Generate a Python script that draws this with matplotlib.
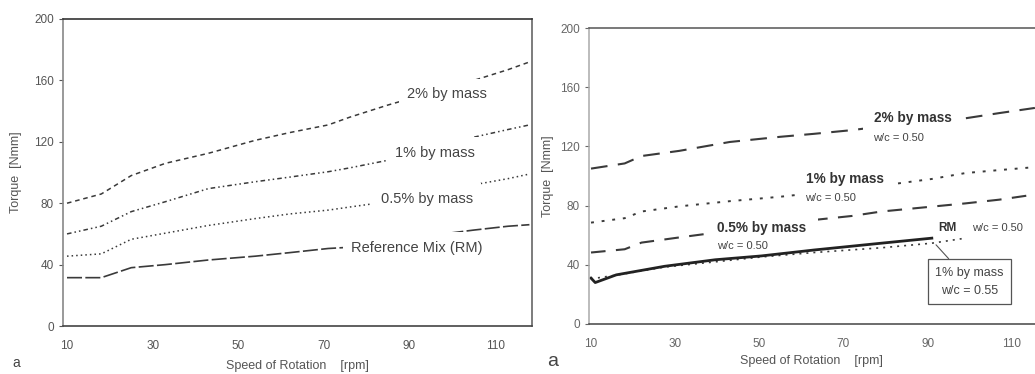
import matplotlib
matplotlib.use("Agg")
import matplotlib.pyplot as plt

plt.rcParams['font.family'] = ['Liberation Sans', 'DejaVu Sans']

# left panel (a) - torque vs speed, fibre content
left_x = [10, 18, 25, 33, 43, 54, 62, 71, 76, 85, 95, 105, 113, 118]
left_2pct = [80, 86, 98, 106, 112.5, 121, 126, 131, 136, 144, 152, 160, 167, 172]
left_1pct = [60, 65, 74.5, 81, 89.5, 94, 97, 100.5, 103, 108, 115, 123, 128, 131]
left_05pct = [45.5, 47, 56.5, 60.5, 65.5, 70, 73, 75.5, 77.5, 81, 86, 92, 96, 99]
left_rm = [31.5, 31.5, 38, 40, 43, 45.5, 47.8, 50.5, 51.3, 54, 59, 62.5, 65, 66]

# right panel (a) - torque vs speed, w/c ratio
right_x = [10, 18, 22, 31, 43, 55, 63, 72, 79, 91, 99, 107, 115.5]
right_2pct = [105, 108.5, 113.5, 117, 123, 126.5, 128.5, 131, 133.5, 136.5, 139, 142.5, 146]
right_1pct = [68.5, 71.5, 76, 79.5, 83, 86, 88.5, 91, 93.5, 98, 102, 104, 106]
right_05pct = [48.3, 50.5, 55, 58.5, 63, 67, 70.3, 73, 76, 79.3, 81.5, 84, 87.5]
rm_x = [10, 11, 16, 27.5, 39.5, 50.5, 63, 79, 91]
rm_y = [31, 28, 33.2, 39, 43.4, 46, 50, 54.6, 58]
wc055_x = [10, 16, 27.5, 39.5, 50.5, 63, 79, 91, 99]
wc055_y = [30.5, 33, 38.5, 42, 45.3, 48.3, 51.5, 54.6, 58]

y_ticks = [0, 40, 80, 120, 160, 200]
x_ticks = [10, 30, 50, 70, 90, 110]

ink = '#3a3a3a'
fig = plt.figure(figsize=(10.35, 3.74), dpi=100)

# ---------------- left panel ----------------
ax1 = fig.add_axes([0.0609, 0.1283, 0.4531, 0.8209])
ax1.plot(left_x, left_2pct, color=ink, lw=1.1, dashes=(3, 2.5))
ax1.plot(left_x, left_1pct, color=ink, lw=1.1, dashes=(3, 2, 1, 2, 1, 2))
ax1.plot(left_x, left_05pct, color=ink, lw=1.1, dashes=(1, 2))
ax1.plot(left_x, left_rm, color=ink, lw=1.2, dashes=(9, 2))

lab = dict(fontsize=10.5, color='#444444', ha='center', va='center',
           bbox=dict(facecolor='white', edgecolor='none', pad=6))
ax1.text(98.8, 151, '2% by mass', **lab)
ax1.text(96, 113, '1% by mass', **lab)
ax1.text(94, 83, '0.5% by mass', **lab)
ax1.text(91.7, 51, 'Reference Mix (RM)', **lab)

ax1.set_xlim(9.07, 118.6)
ax1.set_ylim(0, 200)
ax1.set_xticks(x_ticks)
ax1.set_yticks(y_ticks)
ax1.set_xlabel('Speed of Rotation    [rpm]', fontsize=9, color='#555555', labelpad=6)
ax1.set_ylabel('Torque  [Nmm]', fontsize=9, color='#555555', labelpad=9)
ax1.tick_params(labelsize=8.5, colors='#555555', length=3)
ax1.tick_params(axis='x', length=0, pad=10)
for side, c in [('top', '#333333'), ('bottom', '#444444'),
                ('left', '#888888'), ('right', '#666666')]:
    ax1.spines[side].set_color(c)
    ax1.spines[side].set_linewidth(1.2)
fig.text(0.012, 0.018, 'a', fontsize=10, color='#444444')

# ---------------- right panel ----------------
ax2 = fig.add_axes([0.569, 0.1337, 0.4309, 0.7914])
ax2.plot(right_x, right_2pct, color=ink, lw=1.5, dashes=(8, 5))
ax2.plot(right_x, right_1pct, color=ink, lw=1.4, dashes=(1.5, 4))
ax2.plot(right_x, right_05pct, color=ink, lw=1.5, dashes=(7, 5))
ax2.plot(wc055_x, wc055_y, color=ink, lw=1.2, dashes=(1.2, 3))
ax2.plot(rm_x, rm_y, color='#222222', lw=2.0)

bold = dict(fontsize=9.8, fontweight='bold', color='#333333', ha='center', va='center',
            bbox=dict(facecolor='white', edgecolor='none', pad=8))
small = dict(fontsize=8, color='#444444', ha='center', va='center')
ax2.text(86.5, 139, '2% by mass', **bold)
ax2.text(70.3, 98, '1% by mass', **bold)
ax2.text(50.6, 65, '0.5% by mass', **bold)
ax2.text(83, 126, 'w/c = 0.50', **small)
ax2.text(67, 85, 'w/c = 0.50', **small)
ax2.text(46, 53, 'w/c = 0.50', **small)
ax2.text(94.8, 65, 'RM', fontsize=8.5, fontweight='bold', color='#333333',
         ha='center', va='center')
ax2.text(106.5, 65, 'w/c = 0.50', **small)

ax2.annotate('1% by mass\nw/c = 0.55', xy=(92, 53.5), xytext=(100, 28.5),
             fontsize=9, color='#444444', ha='center', va='center', linespacing=1.7,
             bbox=dict(boxstyle='square,pad=0.6', facecolor='white',
                       edgecolor='#555555', lw=0.9),
             arrowprops=dict(arrowstyle='-', color='#555555', lw=0.8,
                             shrinkA=0, shrinkB=0))

ax2.set_xlim(9.5, 115.5)
ax2.set_ylim(0, 200)
ax2.set_xticks(x_ticks)
ax2.set_yticks(y_ticks)
ax2.set_xlabel('Speed of Rotation    [rpm]', fontsize=9, color='#555555', labelpad=4)
ax2.set_ylabel('Torque  [Nmm]', fontsize=9, color='#555555', labelpad=4)
ax2.tick_params(labelsize=8.5, colors='#666666', length=3)
ax2.tick_params(axis='x', length=0, pad=10)
ax2.spines['right'].set_visible(False)
for side, c in [('top', '#555555'), ('bottom', '#444444'), ('left', '#aaaaaa')]:
    ax2.spines[side].set_color(c)
    ax2.spines[side].set_linewidth(1.1)
fig.text(0.529, 0.022, 'a', fontsize=14, color='#444444')

fig.savefig('out.png', dpi=100)
